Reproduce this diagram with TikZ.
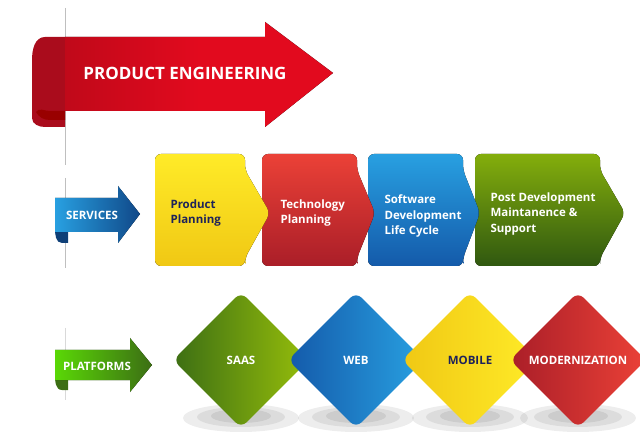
\documentclass[tikz,border=0pt]{standalone}
\usepackage{fontspec}
\setmainfont{Open Sans}
\usetikzlibrary{shapes.geometric}
\definecolor{pered}{RGB}{226,10,30}
\definecolor{pedark}{RGB}{170,12,28}
\definecolor{navy}{RGB}{30,35,90}
\definecolor{gdark}{RGB}{60,110,20}
\definecolor{glight}{RGB}{150,190,10}
\definecolor{bdark}{RGB}{20,90,170}
\definecolor{blight}{RGB}{40,160,225}
\definecolor{ydark}{RGB}{240,200,20}
\definecolor{ylight}{RGB}{255,235,40}
\definecolor{rdark}{RGB}{170,30,40}
\definecolor{rlight}{RGB}{235,65,55}
\tikzset{
  lbl/.style={font=\bfseries\fontsize{11.5}{15.5}\selectfont, text=white, align=left},
  biglbl/.style={font=\bfseries\fontsize{17}{20}\selectfont, text=white},
  tile/.style={diamond, minimum width=136pt, minimum height=136pt, inner sep=0pt,
    rounded corners=8pt, font=\bfseries\fontsize{11.5}{14}\selectfont, text=white},
  shade/.style={fill=black, opacity=0.07}
}
\newcommand\phasebox[6]{%
  \fill[rounded corners=6pt, top color=#5, bottom color=#6]
    (#1,154) -- (#2,154) -- (#2,170) -- (#3,213) -- (#2,258) -- (#2,266) -- (#1,266) -- cycle;
  \node[coordinate] (#4) at (#1,213) {};}
\begin{document}
\begin{tikzpicture}[x=1pt,y=-1pt]
    \useasboundingbox (0,0) rectangle (640,446);

    % page edge
    \draw[gray!50] (65,8) -- (65,165);
    \draw[gray!50] (65,178) -- (65,268);
    \draw[gray!30] (65,328) -- (65,400);

    % main ribbon arrow
    \fill[pedark] (65,37) -- (45,37) to[out=180,in=90] (32,60) -- (32,118) to[out=-90,in=180] (45,127) -- (65,127) -- cycle;
    \fill[red!60!black] (36,112) to[out=-60,in=180] (50,120) -- (65,120) -- (65,111) -- (50,111) to[out=180,in=60] cycle;
    \fill[left color=pered!85!black, right color=pered, middle color=pered]
      (65,37) -- (265,37) -- (265,22) -- (333,73) -- (265,127) -- (265,111) -- (65,111) -- cycle;
    \node[biglbl] (eng) at (185,73) {PRODUCT ENGINEERING};

    % services
    \fill[bdark!70!black] (55,228) to[out=-90,in=180] (62,243) -- (68,243) -- (68,228) -- cycle;
    \fill[left color=blight, right color=bdark!80!black]
      (55,198) -- (118,198) -- (118,186) -- (140,214) -- (118,243) -- (118,232) -- (55,232) -- cycle;
    \node[lbl] (services) at (92,215) {SERVICES};

    \phasebox{475}{600}{625}{support}{glight!80!gdark}{gdark!80!black}
    \phasebox{368}{463}{480}{sdlc}{blight}{bdark}
    \phasebox{262}{357}{375}{tech}{rlight}{rdark}
    \phasebox{155}{245}{270}{plan}{ylight}{ydark}
    \node[lbl, text=navy, anchor=west] at ([xshift=12pt]plan) {Product\\Planning};
    \node[lbl, anchor=west] at ([xshift=15pt]tech) {Technology\\Planning};
    \node[lbl, anchor=west] at ([xshift=13pt,yshift=-3pt]sdlc) {Software\\Development\\Life Cycle};
    \node[lbl, anchor=west] at ([xshift=12pt,yshift=-1pt]support) {Post Development\\Maintanence \&\\Support};

    % platforms
    \fill[gdark] (55,374) to[out=-90,in=180] (62,390) -- (68,390) -- (68,374) -- cycle;
    \fill[left color=glight!60!green, right color=gdark]
      (55,350) -- (130,350) -- (130,338) -- (152,365) -- (130,392) -- (130,380) -- (55,380) -- cycle;
    \node[lbl] (platforms) at (97,366) {PLATFORMS};

    % shadows
    \foreach \cx in {241,356,470,578}{
      \fill[shade] (\cx,418) ellipse (58pt and 14pt);
      \fill[shade] (\cx,417) ellipse (44pt and 10pt);
      \fill[shade] (\cx,416) ellipse (30pt and 7pt);
    }

    % tiles
    \node[tile, left color=gdark, right color=glight] (saas) at (241,360) {SAAS};
    \node[tile, left color=bdark, right color=blight] (web) at (356,360) {WEB};
    \node[tile, left color=ydark, right color=ylight, text=navy] (mobile) at (470,360) {MOBILE};
    \node[tile, left color=rdark, right color=rlight] (modern) at (578,360) {MODERNIZATION};
\end{tikzpicture}
\end{document}
